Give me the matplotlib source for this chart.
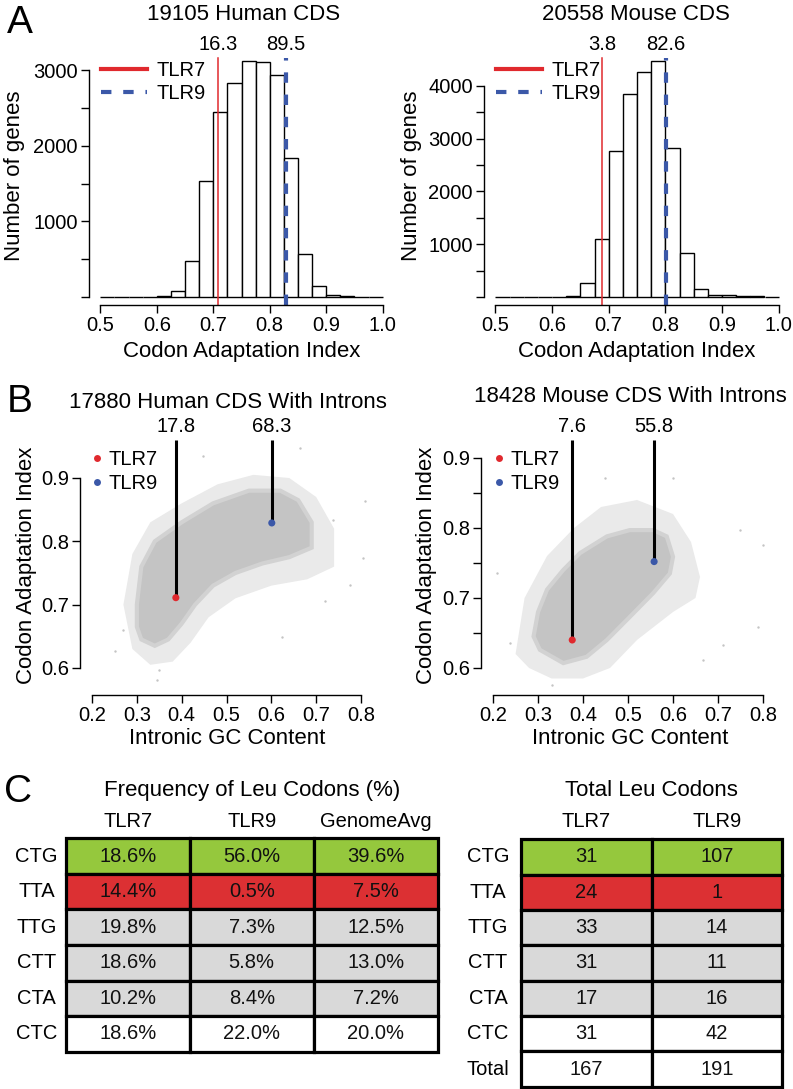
import numpy as np
import matplotlib
matplotlib.use("Agg")
import matplotlib.pyplot as plt
from matplotlib.patches import Rectangle, Polygon
from matplotlib.lines import Line2D

plt.rcParams['font.family'] = ['Liberation Sans', 'DejaVu Sans']
plt.rcParams['lines.scale_dashes'] = False

# ---------------- data ----------------
bin_edges = np.round(np.arange(0.5, 1.0001, 0.025), 3)
human_counts = [0, 0, 0, 0, 13, 79, 476, 1540, 2448, 2832, 3123, 3101, 2938, 1844, 565, 141, 26, 13, 2, 0]
mouse_counts = [0, 0, 0, 0, 0, 25, 266, 1095, 2759, 3842, 4266, 4475, 2829, 842, 158, 38, 38, 19, 19, 0]
human_title = "19105 Human CDS"
mouse_title = "20558 Mouse CDS"
human_cai_tlr = [0.709, 0.829]      # TLR7, TLR9
mouse_cai_tlr = [0.689, 0.801]
human_pct_tlr = ["16.3", "89.5"]
mouse_pct_tlr = ["3.8", "82.6"]

# scatter: TLR points (intronic GC, CAI)
human_sc_title = "17880 Human CDS With Introns"
mouse_sc_title = "18428 Mouse CDS With Introns"
human_tlr_gc = [0.387, 0.601]
human_tlr_cai = [0.711, 0.829]
mouse_tlr_gc = [0.376, 0.558]
mouse_tlr_cai = [0.640, 0.752]
human_sc_pct = ["17.8", "68.3"]
mouse_sc_pct = ["7.6", "55.8"]

# outline of dense point cloud
human_core_x = [0.30, 0.31, 0.34, 0.40, 0.47, 0.55, 0.62, 0.66, 0.69, 0.69, 0.64, 0.58, 0.52, 0.47, 0.43, 0.40, 0.37, 0.34, 0.31, 0.30]
human_core_y = [0.70, 0.76, 0.80, 0.83, 0.86, 0.88, 0.88, 0.865, 0.83, 0.79, 0.775, 0.765, 0.75, 0.73, 0.70, 0.67, 0.645, 0.635, 0.645, 0.665]
human_halo_x = [0.27, 0.29, 0.33, 0.40, 0.48, 0.56, 0.64, 0.70, 0.74, 0.74, 0.68, 0.60, 0.52, 0.46, 0.42, 0.38, 0.33, 0.29]
human_halo_y = [0.70, 0.78, 0.83, 0.86, 0.89, 0.905, 0.90, 0.87, 0.82, 0.76, 0.74, 0.73, 0.71, 0.68, 0.64, 0.61, 0.605, 0.63]
human_out_x = [0.809, 0.804, 0.775, 0.344, 0.251, 0.350, 0.720, 0.664, 0.448, 0.623, 0.738, 0.270]
human_out_y = [0.863, 0.774, 0.731, 0.581, 0.626, 0.597, 0.705, 0.947, 0.934, 0.649, 0.834, 0.660]

mouse_core_x = [0.29, 0.30, 0.32, 0.356, 0.393, 0.453, 0.504, 0.556, 0.586, 0.60, 0.593, 0.556, 0.504, 0.453, 0.408, 0.356, 0.304]
mouse_core_y = [0.645, 0.68, 0.712, 0.74, 0.764, 0.788, 0.797, 0.797, 0.788, 0.759, 0.735, 0.707, 0.673, 0.640, 0.616, 0.607, 0.626]
mouse_halo_x = [0.25, 0.27, 0.32, 0.38, 0.44, 0.52, 0.60, 0.64, 0.66, 0.65, 0.60, 0.52, 0.46, 0.40, 0.33, 0.28]
mouse_halo_y = [0.62, 0.70, 0.76, 0.80, 0.83, 0.84, 0.82, 0.78, 0.73, 0.70, 0.68, 0.64, 0.60, 0.585, 0.585, 0.60]
mouse_out_x = [0.208, 0.800, 0.790, 0.600, 0.449, 0.667, 0.330, 0.238, 0.749, 0.712]
mouse_out_y = [0.735, 0.776, 0.659, 0.871, 0.871, 0.611, 0.576, 0.636, 0.797, 0.633]

# tables
codons = ["CTG", "TTA", "TTG", "CTT", "CTA", "CTC"]
freq_cols = ["TLR7", "TLR9", "GenomeAvg"]
freq_tlr7 = ["18.6%", "14.4%", "19.8%", "18.6%", "10.2%", "18.6%"]
freq_tlr9 = ["56.0%", "0.5%", "7.3%", "5.8%", "8.4%", "22.0%"]
freq_genome = ["39.6%", "7.5%", "12.5%", "13.0%", "7.2%", "20.0%"]
count_rows = ["CTG", "TTA", "TTG", "CTT", "CTA", "CTC", "Total"]
count_cols = ["TLR7", "TLR9"]
count_tlr7 = [31, 24, 33, 31, 17, 31, 167]
count_tlr9 = [107, 1, 14, 11, 16, 42, 191]
row_kind = ["good", "bad", "mid", "mid", "mid", "plain", "plain"]

# ---------------- style ----------------
RED = "#E0292E"
BLUE = "#3B58A8"
GREEN = "#95C83D"
TRED = "#DC3033"
GRAY = "#D9D9D9"
PT = "#C4C4C4"
kind_color = {"good": GREEN, "bad": TRED, "mid": GRAY, "plain": "white"}
FS = 14.5
W, H = 793, 1089
fig = plt.figure(figsize=(W / 100, H / 100), dpi=100)


def rect(l, t, r, b):
    return [l / W, 1 - b / H, (r - l) / W, (b - t) / H]


def fx(x):
    return x / W


def fy(y):
    return 1 - y / H


def style_axes(ax):
    for s in ("top", "right"):
        ax.spines[s].set_visible(False)
    for s in ("left", "bottom"):
        ax.spines[s].set_linewidth(1.0)
    ax.tick_params(length=5.5, width=1.0, labelsize=FS, pad=2.5)
    ax.patch.set_alpha(0)


def histo(ax, counts, ymax, yt, ylab_ticks, lines, pcts, legend_xy, title, tx, ylx):
    lefts = bin_edges[:-1]
    ax.bar(lefts, counts, width=0.025, align="edge", color="white",
           edgecolor="black", linewidth=1.0)
    ax.axvline(lines[0], color=RED, lw=1.1, clip_on=False)
    ax.axvline(lines[1], color=BLUE, lw=3.0, dashes=(7.5, 8.5), clip_on=False)
    ax.set_xlim(0.48, 1.02)
    ax.set_ylim(-106 * ymax / 3160, ymax)
    style_axes(ax)
    ax.spines["bottom"].set_bounds(0.5, 1.0)
    ax.spines["left"].set_bounds(0, ylab_ticks[-1])
    ax.set_xticks(np.round(np.arange(0.5, 1.01, 0.1), 1))
    ax.set_xticklabels(["0.5", "0.6", "0.7", "0.8", "0.9", "1.0"])
    ax.set_yticks(yt)
    ax.set_yticklabels([str(v) if v in ylab_ticks else "" for v in yt])
    ax.set_xlabel("Codon Adaptation Index", fontsize=16, labelpad=4)
    ax.set_ylabel("Number of genes", fontsize=16)
    ax.yaxis.set_label_coords(fx(ylx), fy(176), transform=fig.transFigure)
    for xv, p in zip(lines, pcts):
        ax.annotate(p, (xv, 1.0), xycoords=("data", "axes fraction"),
                    xytext=(0, 3), textcoords="offset points",
                    ha="center", va="bottom", fontsize=FS)
    h = [Line2D([], [], color=RED, lw=3.0),
         Line2D([], [], color=BLUE, lw=3.0, dashes=(7.5, 8.5))]
    ax.legend(h, ["TLR7", "TLR9"], loc="upper left", bbox_to_anchor=legend_xy,
              bbox_transform=fig.transFigure, frameon=False, fontsize=FS,
              handlelength=2.3, handletextpad=0.45, borderpad=0,
              borderaxespad=0, labelspacing=0.2)
    fig.text(fx(tx), fy(15), title, ha="center", va="center", fontsize=16)


ax1 = fig.add_axes(rect(89, 58, 394, 305))
histo(ax1, human_counts, 3160, list(range(0, 3001, 500)), [1000, 2000, 3000],
      human_cai_tlr, human_pct_tlr, (fx(101), fy(61)), human_title, 244, 25)
ax2 = fig.add_axes(rect(484, 58, 790, 305))
histo(ax2, mouse_counts, 4530, list(range(0, 4001, 500)), [1000, 2000, 3000, 4000],
      mouse_cai_tlr, mouse_pct_tlr, (fx(496), fy(61)), mouse_title, 636, 422)


def scat(ax, halo, core, outl, tgc, tcai, pcts, xmax, ylim, yt, legend_xy, title, tx, ty, ylx):
    ax.add_patch(Polygon(np.column_stack(halo), closed=True, fc="#EAEAEA", ec="none"))
    ax.add_patch(Polygon(np.column_stack(core), closed=True, fc=PT, ec="#D2D2D2", lw=3))
    ax.scatter(outl[0], outl[1], s=3, c=PT, lw=0)
    ax.set_xlim(0.1732, xmax)
    ax.set_ylim(*ylim)
    for g, c in zip(tgc, tcai):
        ax.vlines(g, c, ylim[1], color="black", lw=2.2, clip_on=False)
    ax.scatter(tgc, tcai, s=26, c=[RED, BLUE], lw=0, zorder=5)
    for g, p in zip(tgc, pcts):
        ax.annotate(p, (g, 1.0), xycoords=("data", "axes fraction"),
                    xytext=(0, 3), textcoords="offset points",
                    ha="center", va="bottom", fontsize=FS)
    style_axes(ax)
    ax.spines["bottom"].set_bounds(0.2, 0.8)
    ax.spines["left"].set_bounds(0.6, 0.9)
    ax.set_xticks(np.round(np.arange(0.2, 0.81, 0.1), 1))
    ax.set_xticklabels(["0.2", "0.3", "0.4", "0.5", "0.6", "0.7", "0.8"])
    ax.set_yticks(yt)
    ax.set_yticklabels([("%.1f" % v) if abs(v * 10 - round(v * 10)) < 1e-6 else "" for v in yt])
    ax.set_xlabel("Intronic GC Content", fontsize=16, labelpad=2)
    ax.set_ylabel("Codon Adaptation Index", fontsize=16)
    ax.yaxis.set_label_coords(fx(ylx), fy(565), transform=fig.transFigure)
    h = [Line2D([], [], ls="none", marker="o", ms=5, mfc=RED, mec="none"),
         Line2D([], [], ls="none", marker="o", ms=5, mfc=BLUE, mec="none")]
    ax.legend(h, ["TLR7", "TLR9"], loc="upper left", bbox_to_anchor=legend_xy,
              bbox_transform=fig.transFigure, frameon=False, fontsize=FS,
              handlelength=0.5, handletextpad=0.3, borderpad=0,
              borderaxespad=0, labelspacing=0.25)
    fig.text(fx(tx), fy(ty), title, ha="center", va="center", fontsize=16)


ax3 = fig.add_axes(rect(80, 440, 375, 695))
scat(ax3, (human_halo_x, human_halo_y), (human_core_x, human_core_y),
     (human_out_x, human_out_y), human_tlr_gc, human_tlr_cai, human_sc_pct,
     0.8312, (0.5573, 0.96), [0.6, 0.7, 0.8, 0.9], (fx(92), fy(450)),
     human_sc_title, 228, 403, 37)
ax4 = fig.add_axes(rect(481, 440, 780, 695))
scat(ax4, (mouse_halo_x, mouse_halo_y), (mouse_core_x, mouse_core_y),
     (mouse_out_x, mouse_out_y), mouse_tlr_gc, mouse_tlr_cai, mouse_sc_pct,
     0.8378, (0.5614, 0.9257), [0.6, 0.65, 0.7, 0.75, 0.8, 0.85, 0.9], (fx(494), fy(450)),
     mouse_sc_title, 630, 397, 437)


def table(ax, rows, cols, columns, kinds, title, label_dx, head_dy, title_dy):
    nr, nc = len(rows), len(cols)
    ax.set_xlim(0, nc)
    ax.set_ylim(nr, 0)
    ax.axis("off")
    for i in range(nr):
        for j in range(nc):
            ax.add_patch(Rectangle((j, i), 1, 1, fc=kind_color[kinds[i]],
                                   ec="black", lw=2.3, clip_on=False))
            ax.text(j + 0.5, i + 0.5, str(columns[j][i]), ha="center",
                    va="center", fontsize=14.5, color="#111111")
        ax.text(label_dx, i + 0.5, rows[i], ha="center", va="center", fontsize=14.5)
    for j in range(nc):
        ax.text(j + 0.5, head_dy, cols[j], ha="center", va="center", fontsize=14.5)
    ax.text(nc / 2, title_dy, title, ha="center", va="center", fontsize=16)


ax5 = fig.add_axes(rect(65.7, 838.3, 437.7, 1051.7))
table(ax5, codons, freq_cols, [freq_tlr7, freq_tlr9, freq_genome], row_kind,
      "Frequency of Leu Codons (%)", -0.234, -0.47, -1.34)
ax6 = fig.add_axes(rect(521, 839.3, 782.3, 1086.7))
table(ax6, count_rows, count_cols, [count_tlr7, count_tlr9], row_kind,
      "Total Leu Codons", -0.253, -0.5, -1.39)

for lab, x, y in (("A", 20, 23), ("B", 20, 402), ("C", 18, 792)):
    fig.text(fx(x), fy(y), lab, ha="center", va="center", fontsize=28)

fig.savefig("out.png", dpi=100)
